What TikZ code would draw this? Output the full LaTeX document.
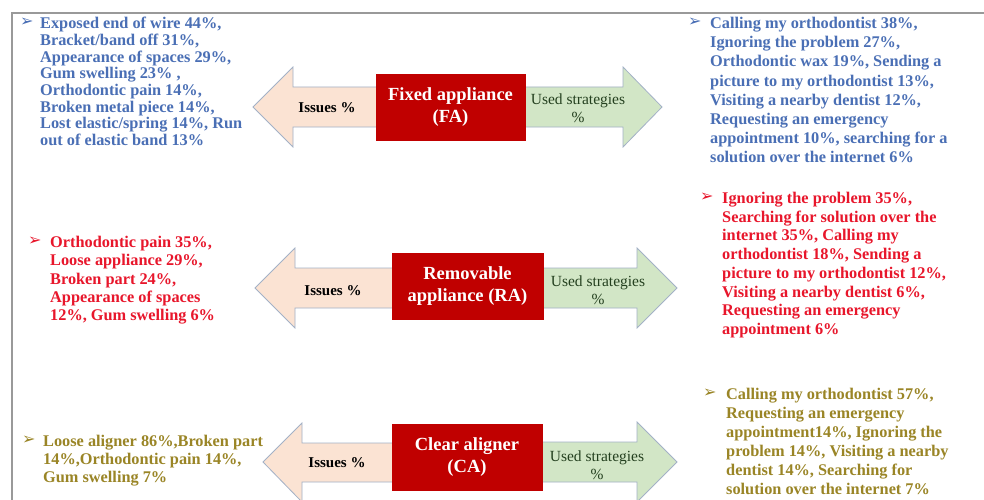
\documentclass[tikz,border=0pt]{standalone}
\usepackage{fontspec}
\setmainfont{Liberation Serif}
\newfontfamily\dejavu{DejaVu Sans}
\definecolor{fablue}{HTML}{4A6FB5}
\definecolor{rared}{HTML}{E8162B}
\definecolor{caolive}{HTML}{9A8526}
\definecolor{boxred}{HTML}{C00000}
\definecolor{peach}{HTML}{FBE3D3}
\definecolor{lgreen}{HTML}{D2E6C6}
\definecolor{arrline}{HTML}{A3B1C6}
\definecolor{usedgreen}{HTML}{24401F}
\begin{document}
\begin{tikzpicture}[x=1pt,y=-1pt,
  txtblock/.style={anchor=north west,inner sep=0pt,align=left,font=\bfseries\fontsize{16.3}{#1}\selectfont},
  bul/.style={anchor=west,inner sep=0pt,font=\dejavu\fontsize{16}{16}\selectfont},
  apbox/.style={draw=boxred,fill=boxred,text=white,inner sep=0pt,align=center,font=\bfseries\fontsize{18.5}{22}\selectfont},
  issuelbl/.style={inner sep=0pt,font=\bfseries\fontsize{15}{16}\selectfont},
  usedlbl/.style={inner sep=0pt,align=center,text=usedgreen,font=\fontsize{15.5}{18}\selectfont},
  larrow/.style={fill=peach,draw=arrline,line width=0.8pt,line join=miter},
  rarrow/.style={fill=lgreen,draw=arrline,line width=0.8pt,line join=miter},
  frame/.style={draw=gray!80,line width=1.3pt}
]
\useasboundingbox (0,0) rectangle (984,500);
\fill[white] (0,0) rectangle (984,500);
\draw[frame] (990,13) -- (12,13) -- (12,505);

% ---------- Row 1 : Fixed appliance ----------
\draw[larrow] (253,107) -- (293,67) -- (293,87) -- (420,87) -- (420,127) -- (293,127) -- (293,147) -- cycle;
\draw[rarrow] (480,87) -- (623,87) -- (623,67) -- (662,107) -- (623,147) -- (623,127) -- (480,127) -- cycle;
\node[apbox,minimum width=149pt,minimum height=66pt] (fa) at (450.5,107) {Fixed appliance\\(FA)};
\node[issuelbl] (fai) at (327,108) {Issues \%};
\node[usedlbl] (fau) at (578,108) {Used  strategies\\\%};

\node[bul,text=fablue] (b1l) at (20,22.5) {➢};
\node[txtblock=16.7,text=fablue] (t1l) at (40,17) {Exposed end of wire 44\%,\\Bracket/band off 31\%,\\Appearance of spaces 29\%,\\Gum swelling 23\% ,\\Orthodontic pain 14\%,\\Broken metal piece 14\%,\\Lost elastic/spring 14\%, Run\\out of elastic band 13\%};

\node[bul,text=fablue] (b1r) at (688,22.5) {➢};
\node[txtblock=19.2,text=fablue] (t1r) at (710,17) {Calling my orthodontist 38\%,\\Ignoring the problem 27\%,\\Orthodontic wax 19\%, Sending a\\picture to my orthodontist 13\%,\\Visiting a nearby dentist 12\%,\\Requesting an emergency\\appointment 10\%, searching for a\\solution over the internet 6\%};

% ---------- Row 2 : Removable appliance ----------
\draw[larrow] (255,288) -- (295,248) -- (295,268) -- (430,268) -- (430,308) -- (295,308) -- (295,328) -- cycle;
\draw[rarrow] (500,268) -- (637,268) -- (637,248) -- (677,288) -- (637,328) -- (637,308) -- (500,308) -- cycle;
\node[apbox,minimum width=151pt,minimum height=66pt] (ra) at (467.5,286) {Removable\\appliance (RA)};
\node[issuelbl] (rai) at (333,291) {Issues \%};
\node[usedlbl] (rau) at (598,290) {Used  strategies\\\%};

\node[bul,text=rared] (b2l) at (28,241.5) {➢};
\node[txtblock=18.3,text=rared] (t2l) at (50,236) {Orthodontic pain 35\%,\\Loose appliance 29\%,\\Broken part 24\%,\\Appearance of spaces\\12\%, Gum swelling 6\%};

\node[bul,text=rared] (b2r) at (700,197.5) {➢};
\node[txtblock=18.7,text=rared] (t2r) at (722,192) {Ignoring the problem 35\%,\\Searching for solution over the\\internet 35\%, Calling my\\orthodontist 18\%, Sending a\\picture to my orthodontist 12\%,\\Visiting a nearby dentist 6\%,\\Requesting an emergency\\appointment 6\%};

% ---------- Row 3 : Clear aligner ----------
\draw[rarrow] (500,442) -- (637,442) -- (637,422) -- (677,462) -- (637,502) -- (637,482) -- (500,482) -- cycle;
\draw[larrow] (263,462) -- (302,423) -- (302,443) -- (430,443) -- (430,482) -- (302,482) -- (302,502) -- cycle;
\node[apbox,minimum width=150pt,minimum height=66pt] (ca) at (467,457) {Clear aligner\\(CA)};
\node[issuelbl] (cai) at (337,463) {Issues \%};
\node[usedlbl] (cau) at (597,465) {Used  strategies\\\%};

\node[bul,text=caolive] (b3l) at (22,440.5) {➢};
\node[txtblock=18,text=caolive] (t3l) at (43,435) {Loose aligner 86\%,Broken part\\14\%,Orthodontic pain 14\%,\\Gum swelling 7\%};

\node[bul,text=caolive] (b3r) at (703,393.5) {➢};
\node[txtblock=19,text=caolive] (t3r) at (726,388) {Calling my orthodontist 57\%,\\Requesting an emergency\\appointment14\%, Ignoring the\\problem 14\%, Visiting a nearby\\dentist 14\%, Searching for\\solution over the internet 7\%};
\end{tikzpicture}
\end{document}
